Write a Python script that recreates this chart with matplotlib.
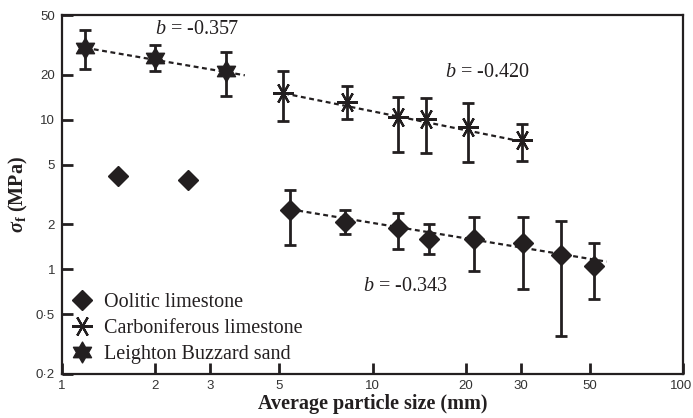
import numpy as np
import matplotlib
matplotlib.use("Agg")
import matplotlib.pyplot as plt
from matplotlib.path import Path
from matplotlib.transforms import ScaledTranslation
from matplotlib.ticker import FixedLocator, FixedFormatter, NullLocator

plt.rcParams['font.family'] = ['Liberation Serif', 'DejaVu Serif']
plt.rcParams['mathtext.fontset'] = 'custom'
plt.rcParams['mathtext.rm'] = 'Liberation Serif'
plt.rcParams['mathtext.it'] = 'Liberation Serif:italic'
plt.rcParams['mathtext.bf'] = 'Liberation Serif:bold:italic'
plt.rcParams['mathtext.sf'] = 'Liberation Serif:bold'

INK = '#231f20'

# Leighton Buzzard sand
sand_x = [1.19, 2.0, 3.38]
sand_y = [30.2, 25.9, 21.1]
sand_lo = [21.8, 21.1, 14.4]
sand_hi = [39.7, 31.5, 28.2]

# Carboniferous limestone
carb_x = [5.16, 8.26, 12.1, 14.9, 20.3, 30.2]
carb_y = [15.0, 13.2, 10.4, 10.1, 8.97, 7.31]
carb_lo = [9.8, 10.1, 6.05, 5.96, 5.19, 5.32]
carb_hi = [21.2, 16.9, 14.2, 14.0, 13.0, 9.35]

# Oolitic limestone
ool_x = [5.42, 8.15, 12.1, 15.2, 21.2, 30.5, 40.5, 51.7]
ool_y = [2.49, 2.08, 1.88, 1.59, 1.59, 1.49, 1.25, 1.05]
ool_lo = [1.45, 1.71, 1.36, 1.26, 0.975, 0.735, 0.36, 0.63]
ool_hi = [3.39, 2.5, 2.37, 2.0, 2.23, 2.23, 2.11, 1.51]
ool_extra_x = [1.52, 2.55]
ool_extra_y = [4.22, 3.95]

# power-law fits y = a * x^b
fits = [
    dict(a=32.1, b=-0.357, x0=1.19, x1=3.88, tx=2.72, ty=40.3),
    dict(a=29.9, b=-0.420, x0=5.2, x1=30.0, tx=23.5, ty=20.5),
    dict(a=4.5, b=-0.343, x0=5.42, x1=56.8, tx=12.8, ty=0.774),
]

x_ticks = [1, 2, 3, 5, 10, 20, 30, 50, 100]
x_labels = ['1', '2', '3', '5', '10', '20', '30', '50', '100']
y_ticks = [0.2, 0.5, 1, 2, 5, 10, 20, 50]
y_labels = ['0·2', '0·5', '1', '2', '5', '10', '20', '50']

# hexagram marker
ang = np.deg2rad(90 + np.arange(12) * 30)
rad = np.where(np.arange(12) % 2 == 0, 1.0, 1 / np.sqrt(3))
hex_verts = np.column_stack([rad * np.cos(ang), rad * np.sin(ang)])
hexagram = Path(np.vstack([hex_verts, hex_verts[:1]]), closed=True)

fig = plt.figure(figsize=(6.93, 4.18), dpi=100)
ax = fig.add_axes([62 / 693, 1 - 374 / 418, 621 / 693, 359 / 418])
ax.set_xscale('log')
ax.set_yscale('log')
ax.set_xlim(1, 100)
ax.set_ylim(0.2, 50)

for f in fits:
    xs = np.array([f['x0'], f['x1']])
    ax.plot(xs, f['a'] * xs ** f['b'], color=INK, lw=1.6,
            dashes=(2.2, 1.6), zorder=2)
    ax.text(f['tx'], f['ty'], r'$b$ = %.3f' % f['b'], fontsize=14.5,
            ha='center', va='center', color=INK)

def err(xs, ys, lo, hi):
    ys = np.array(ys)
    yerr = [ys - np.array(lo), np.array(hi) - ys]
    ax.errorbar(xs, ys, yerr=yerr, fmt='none', ecolor=INK, elinewidth=2,
                capsize=4.5, capthick=2, zorder=3)

err(sand_x, sand_y, sand_lo, sand_hi)
err(carb_x, carb_y, carb_lo, carb_hi)
err(ool_x, ool_y, ool_lo, ool_hi)

ax.plot(ool_x + ool_extra_x, ool_y + ool_extra_y, 'D', color=INK, ms=10.5,
        ls='none', zorder=4, label='Oolitic limestone')
ax.plot(carb_x, carb_y, marker=(6, 2, 90), color=INK, ms=15, mew=1.6,
        ls='none', zorder=4, label='Carboniferous limestone')
ax.plot(sand_x, sand_y, marker=hexagram, color=INK, ms=15,
        ls='none', zorder=4, label='Leighton Buzzard sand')

ax.legend(loc='lower left', frameon=False, fontsize=14.5, handlelength=1.0,
          handletextpad=0.6, labelspacing=0.35, borderaxespad=0.3,
          borderpad=0.2, labelcolor=INK)

ax.xaxis.set_major_locator(FixedLocator(x_ticks))
ax.xaxis.set_major_formatter(FixedFormatter(x_labels))
ax.yaxis.set_major_locator(FixedLocator(y_ticks))
ax.yaxis.set_major_formatter(FixedFormatter(y_labels))
ax.xaxis.set_minor_locator(NullLocator())
ax.yaxis.set_minor_locator(NullLocator())
ax.tick_params(direction='in', length=8, width=2, color=INK, labelsize=9.5,
               labelcolor='#333333', labelfontfamily='Liberation Sans',
               top=False, right=False)
ax.tick_params(axis='x', pad=4)
ax.tick_params(axis='y', pad=5)
for s in ax.spines.values():
    s.set_linewidth(1.6)
    s.set_color(INK)

# keep the "100" label inside the figure
last = ax.get_xticklabels()[-1]
last.set_horizontalalignment('right')
last.set_transform(last.get_transform() +
                   ScaledTranslation(9 / 100, 0, fig.dpi_scale_trans))

ax.set_xlabel('Average particle size (mm)', fontsize=14.5, fontweight='bold',
              color=INK, labelpad=2)
ax.set_ylabel(r'$\mathbf{\sigma}_{\mathsf{f}}$ (MPa)', fontsize=14.5,
              fontweight='bold', color=INK, labelpad=4)

fig.savefig('out.png', dpi=100)
